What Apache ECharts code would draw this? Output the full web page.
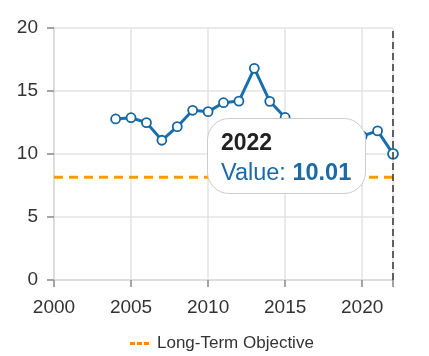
<!DOCTYPE html>
<html>
<head>
<meta charset="utf-8">
<script src="https://cdn.jsdelivr.net/npm/echarts@6/dist/echarts.min.js"></script>
<style>
html,body{margin:0;padding:0;background:#fff;}
#chart{width:429px;height:356px;}
</style>
</head>
<body>
<div id="chart"></div>
<script>
var years = [2004,2005,2006,2007,2008,2009,2010,2011,2012,2013,2014,2015,2016,2017,2018,2019,2020,2021,2022];
var values = [12.78,12.88,12.49,11.09,12.17,13.47,13.36,14.07,14.2,16.8,14.18,12.9,12.0,11.6,11.1,11.2,11.42,11.83,10.01];
var objectiveYears = [2000,2022];
var objectiveValue = 8.15;
var xTicks = [2000,2005,2010,2015,2020];
var yTicks = [0,5,10,15,20];

var fontFam = '"Liberation Sans", Arial, sans-serif';
var chart = echarts.init(document.getElementById('chart'));
var option = {
  animation: false,
  grid: {left:54, right:36, top:28, bottom:76, containLabel:false},
  legend: {
    top: 330, left: 125,
    data: [{name: 'Long-Term Objective', icon: 'path://M0,0H5V3H0Z M7,0H12V3H7Z M14,0H19V3H14Z'}],
    itemWidth: 19, itemHeight: 3, itemGap: 8,
    textStyle: {fontFamily: fontFam, fontSize: 17, color: '#333', padding: [0,0,0,3]}
  },
  tooltip: {
    trigger: 'axis',
    triggerOn: 'none',
    alwaysShowContent: true,
    transitionDuration: 0,
    backgroundColor: '#ffffff',
    borderColor: '#cccccc',
    borderWidth: 1,
    padding: [8, 14, 6, 13],
    extraCssText: 'border-radius:22px;box-shadow:none;',
    position: function(){ return [207, 118]; },
    axisPointer: {
      type: 'line',
      lineStyle: {color: '#333', width: 1.5, type: [7, 4]}
    },
    formatter: function(params){
      var p = params.filter(function(q){return q.seriesIndex===0;})[0];
      return '<div style="font-family:Liberation Sans,Arial,sans-serif;font-size:23px;line-height:30px;font-weight:bold;color:#222">' + p.value[0] + '</div>' +
             '<div style="font-family:Liberation Sans,Arial,sans-serif;font-size:23.5px;line-height:30px;color:#1a6aa8">Value: <b>' + p.value[1].toFixed(2) + '</b></div>';
    }
  },
  xAxis: {
    type: 'value', min: 2000, max: 2022, interval: 5,
    axisLine: {show: true, lineStyle: {color: '#d9d9d9', width: 1.5}},
    axisTick: {show: true, length: 7, lineStyle: {color: '#888', width: 1.5}},
    splitLine: {show: true, lineStyle: {color: '#e3e3e3', width: 1.5}},
    axisLabel: {
      margin: 18, fontSize: 19, color: '#333', fontFamily: fontFam,
      formatter: function(v){ return xTicks.indexOf(v) >= 0 ? String(v) : ''; }
    }
  },
  yAxis: {
    type: 'value', min: 0, max: 20, interval: 5,
    axisLine: {show: true, lineStyle: {color: '#d9d9d9', width: 1.5}},
    axisTick: {show: true, length: 7, lineStyle: {color: '#888', width: 1.5}},
    splitLine: {show: true, lineStyle: {color: '#e3e3e3', width: 1.5}},
    axisLabel: {
      margin: 16, fontSize: 19, color: '#333', fontFamily: fontFam,
      formatter: function(v){ return yTicks.indexOf(v) >= 0 ? String(v) : ''; }
    }
  },
  series: [
    {
      name: 'Value',
      type: 'line',
      data: years.map(function(y,i){ return [y, values[i]]; }),
      lineStyle: {color: '#15659f', width: 3},
      itemStyle: {color: '#ffffff', borderColor: '#15659f', borderWidth: 1.8},
      symbol: 'circle', symbolSize: 9,
      z: 3
    },
    {
      name: 'Long-Term Objective',
      type: 'line',
      data: objectiveYears.map(function(y){ return [y, objectiveValue]; }),
      symbol: 'none',
      lineStyle: {color: '#ff8c00', width: 3, type: [9, 6]},
      itemStyle: {color: '#ff8c00'},
      z: 2
    }
  ]
};
chart.setOption(option);
chart.dispatchAction({type: 'showTip', seriesIndex: 0, dataIndex: years.length - 1});
</script>
</body>
</html>
